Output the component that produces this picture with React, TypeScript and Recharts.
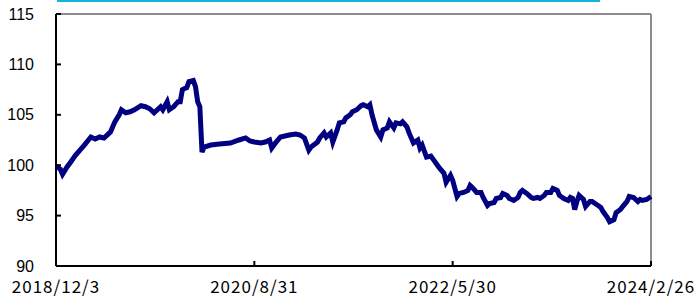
import React from 'react'
import { LineChart, Line, XAxis, YAxis, ReferenceLine } from 'recharts'

// weeks since 2018/12/3 and the index level read at that week
const weekIdx = [
    0, 2, 3, 5, 7, 9, 11, 13, 16, 18, 20, 22, 25, 27, 29, 30, 32, 34, 36, 39,
    41, 43, 45, 48, 49, 51, 52, 54, 56, 57, 58, 60, 61, 63, 64, 65, 66, 67, 68, 71,
    75, 80, 84, 87, 89, 91, 94, 96, 98, 99, 101, 103, 105, 107, 110, 112, 114, 116, 117, 120,
    121, 123, 124, 126, 127, 129, 130, 132, 133, 135, 136, 138, 140, 141, 143, 144, 145, 147, 149, 150,
    152, 153, 155, 156, 158, 159, 161, 162, 164, 166, 167, 168, 170, 172, 173, 175, 176, 178, 179, 181,
    182, 184, 185, 187, 189, 190, 191, 193, 195, 196, 198, 199, 201, 202, 204, 205, 207, 208, 210, 212,
    213, 214, 216, 218, 219, 221, 222, 224, 225, 227, 228, 230, 231, 233, 235, 236, 237, 238, 239, 240,
    242, 243, 245, 246, 248, 250, 251, 253, 254, 256, 257, 259, 260, 262, 263, 265, 267, 268, 269, 271,
    273,
]
const values = [
    99.9, 99.6, 99.1, 99.8, 100.4, 101.0, 101.5, 102.0, 102.8, 102.6, 102.8, 102.7, 103.3, 104.3, 105.0, 105.5, 105.2, 105.3, 105.5, 105.9,
    105.8, 105.6, 105.2, 105.8, 105.5, 106.3, 105.5, 105.8, 106.3, 106.3, 107.5, 107.7, 108.3, 108.4, 107.8, 106.3, 105.8, 101.3, 101.8, 102.0,
    102.1, 102.2, 102.5, 102.7, 102.4, 102.3, 102.2, 102.3, 102.5, 101.7, 102.3, 102.8, 102.9, 103.0, 103.1, 103.0, 102.7, 101.5, 101.8, 102.3,
    102.7, 103.2, 102.8, 103.2, 102.3, 103.5, 104.2, 104.3, 104.7, 105.0, 105.3, 105.5, 105.9, 106.0, 105.8, 106.0, 105.0, 103.5, 102.8, 103.5,
    103.7, 104.3, 103.7, 104.2, 104.1, 104.3, 103.8, 103.2, 102.2, 102.5, 101.7, 102.0, 100.8, 100.9, 100.6, 100.0, 99.7, 99.2, 98.3, 99.0,
    98.5, 96.9, 97.2, 97.3, 97.5, 98.0, 97.8, 97.3, 97.3, 96.8, 96.0, 96.2, 96.3, 96.7, 96.8, 97.2, 97.0, 96.7, 96.5, 96.8,
    97.3, 97.5, 97.2, 96.8, 96.7, 96.8, 96.7, 97.0, 97.3, 97.3, 97.7, 97.5, 97.0, 96.7, 96.5, 96.8, 96.7, 95.6, 96.4, 97.0,
    96.6, 95.9, 96.4, 96.4, 96.1, 95.8, 95.4, 94.8, 94.4, 94.6, 95.3, 95.6, 95.9, 96.4, 96.9, 96.8, 96.4, 96.6, 96.5, 96.6,
    96.9,
]

const tickWeeks = [0, 91, 182, 273]
const tickLabels = ['2018/12/3', '2020/8/31', '2022/5/30', '2024/2/26']
const yTicks = [90, 95, 100, 105, 110, 115]

const data = weekIdx.map((w, i) => ({ week: w, value: values[i] }))

const App = () => {
    return (
        <div style={{ position: 'absolute', top: 0, left: 0, width: 694, height: 298, background: '#fff' }}>
            <div style={{ position: 'absolute', top: 0, left: 57, width: 543, height: 2, background: '#14b4d4' }} />
            <LineChart
                width={694}
                height={298}
                data={data}
                margin={{ top: 14, right: 43, left: 0, bottom: 0 }}
            >
                <XAxis
                    dataKey="week"
                    type="number"
                    domain={[0, 273]}
                    ticks={tickWeeks}
                    interval={0}
                    tickFormatter={(w: number) => tickLabels[tickWeeks.indexOf(w)]}
                    height={32}
                    tickSize={-5}
                    tickMargin={20}
                    axisLine={{ stroke: '#000', strokeWidth: 2 }}
                    tickLine={{ stroke: '#000', strokeWidth: 2 }}
                    tick={{ fill: '#000', fontSize: 17, letterSpacing: 1, fontFamily: '"Noto Sans CJK JP", sans-serif' }}
                />
                <YAxis
                    domain={[90, 115]}
                    ticks={yTicks}
                    interval={0}
                    width={56}
                    tickSize={-5}
                    tickMargin={27}
                    axisLine={{ stroke: '#000', strokeWidth: 2 }}
                    tickLine={{ stroke: '#000', strokeWidth: 2 }}
                    tick={{ fill: '#000', fontSize: 16, fontFamily: '"Liberation Sans", Arial, sans-serif' }}
                />
                <ReferenceLine y={115} stroke="#8c8c8c" strokeWidth={2} />
                <ReferenceLine x={273} stroke="#8c8c8c" strokeWidth={2} />
                <Line
                    type="linear"
                    dataKey="value"
                    stroke="#000080"
                    strokeWidth={5}
                    dot={false}
                    isAnimationActive={false}
                />
            </LineChart>
        </div>
    )
}

export default App
